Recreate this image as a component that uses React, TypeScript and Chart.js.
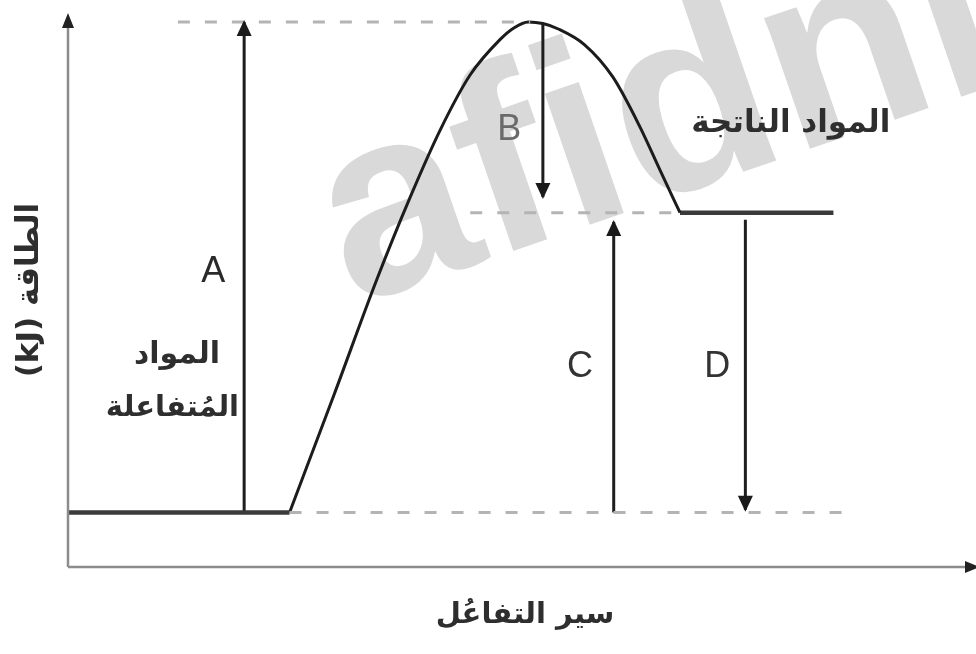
import React, { useEffect, useRef } from "react";
import { Chart, registerables } from "chart.js";

Chart.register(...registerables);

// Energy profile of an endothermic reaction (arbitrary energy units vs. reaction progress 0–100)
const reactantEnergy = 10;
const productEnergy = 65;
const transitionEnergy = 100;

const reactantSpan = [0, 24.4];
const productSpan = [67.4, 84.3];

// Reaction path from reactants up over the activation barrier down to products
const pathProgress = [24.4, 29.3, 34.0, 37.7, 41.0, 44.3, 47.6, 49.1, 50.7, 52.3, 54.0, 56.9, 60.0, 63.0, 65.2, 67.4];
const pathEnergy = [10, 31.6, 52.7, 67.9, 80.2, 90.3, 96.8, 98.9, 100, 99.7, 98.7, 95.8, 89.9, 80.7, 72.8, 65];

// Dashed reference levels: [from, to] along the progress axis
const transitionGuide = [12.1, 50.9];
const productGuide = [44.3, 67.4];
const reactantGuide = [24.4, 86.1];

// Energy arrows: position on progress axis, start energy, end energy (arrowhead at end)
const arrowNames = ["A", "B", "C", "D"];
const arrowProgress = [19.4, 52.3, 60.1, 74.6];
const arrowFrom = [10, 99.7, 10, 63.7];
const arrowTo = [100, 67.9, 63.3, 10.5];

// Text labels: [text, progress, energy, colour]
const letterLabels: [string, number, number, string][] = [
  ["A", 16.0, 54.1, "#2a2a2a"],
  ["B", 48.6, 80.2, "#6a6a6a"],
  ["C", 56.4, 36.7, "#333333"],
  ["D", 71.5, 36.7, "#333333"],
];
const arabicLabels: [string, number, number, number][] = [
  ["المواد", 12.0, 38.9, 30],
  ["المُتفاعلة", 11.5, 29.0, 29],
  ["المواد الناتجة", 79.6, 81.3, 31],
];
const yTitle = "الطاقة (kJ)";
const xTitle = "سير التفاعُل";
const watermark = "afidni";

const seg = (x0: number, x1: number, y: number) => [
  { x: x0, y },
  { x: x1, y },
];

const diagramPlugin = {
  id: "diagramDecor",
  beforeDatasetsDraw(chart: any) {
    const { ctx } = chart;
    const xs = chart.scales.x;
    const ys = chart.scales.y;
    ctx.save();
    // watermark
    const ox = xs.getPixelForValue(31.3);
    const oy = ys.getPixelForValue(47.8);
    ctx.translate(ox, oy);
    ctx.rotate((-19 * Math.PI) / 180);
    ctx.font = 'bold 262px "Liberation Sans", Arial, sans-serif';
    ctx.fillStyle = "#d9d9d9";
    ctx.textBaseline = "alphabetic";
    ctx.fillText(watermark, 0, 0);
    ctx.restore();
  },
  afterDatasetsDraw(chart: any) {
    const { ctx, chartArea } = chart;
    const xs = chart.scales.x;
    const ys = chart.scales.y;
    ctx.save();

    // axes with arrowheads
    const left = chartArea.left;
    const bottom = chartArea.bottom;
    ctx.strokeStyle = "#8c8c8c";
    ctx.fillStyle = "#222";
    ctx.lineWidth = 2.5;
    ctx.beginPath();
    ctx.moveTo(left, bottom);
    ctx.lineTo(left, chartArea.top + 10);
    ctx.moveTo(left, bottom);
    ctx.lineTo(chartArea.right - 6, bottom);
    ctx.stroke();
    const head = (tx: number, ty: number, dx: number, dy: number, len: number, hw: number) => {
      const px = -dy;
      const py = dx;
      ctx.beginPath();
      ctx.moveTo(tx, ty);
      ctx.lineTo(tx - dx * len + px * hw, ty - dy * len + py * hw);
      ctx.lineTo(tx - dx * len - px * hw, ty - dy * len - py * hw);
      ctx.closePath();
      ctx.fill();
    };
    head(left, chartArea.top + 2, 0, -1, 15, 6);
    head(chartArea.right + 4, bottom, 1, 0, 15, 6);

    // arrowheads for energy arrows
    ctx.fillStyle = "#1a1a1a";
    chart.data.datasets.forEach((ds: any, i: number) => {
      if (!ds.arrow) return;
      const meta = chart.getDatasetMeta(i);
      const pts = meta.data;
      const a = pts[pts.length - 2];
      const b = pts[pts.length - 1];
      let dx = b.x - a.x;
      let dy = b.y - a.y;
      const l = Math.hypot(dx, dy) || 1;
      dx /= l;
      dy /= l;
      head(b.x + dx * 2, b.y + dy * 2, dx, dy, 16, 7.5);
    });

    // letter labels
    ctx.textAlign = "center";
    ctx.textBaseline = "middle";
    ctx.font = '36px "Liberation Sans", Arial, sans-serif';
    letterLabels.forEach(([t, x, y, c]) => {
      ctx.fillStyle = c;
      ctx.fillText(t, xs.getPixelForValue(x), ys.getPixelForValue(y));
    });

    // Arabic labels
    ctx.direction = "rtl";
    ctx.fillStyle = "#2e2e2e";
    arabicLabels.forEach(([t, x, y, size]) => {
      ctx.font = `bold ${size}px "DejaVu Sans", sans-serif`;
      ctx.fillText(t, xs.getPixelForValue(x), ys.getPixelForValue(y));
    });

    // axis titles
    ctx.font = 'bold 29px "DejaVu Sans", sans-serif';
    ctx.fillText(xTitle, (left + chartArea.right) / 2 + 3, bottom + 48);
    ctx.save();
    ctx.translate(left - 38, ys.getPixelForValue(50.8));
    ctx.rotate(-Math.PI / 2);
    ctx.font = 'bold 31px "DejaVu Sans", sans-serif';
    ctx.fillText(yTitle, 0, 0);
    ctx.restore();

    ctx.restore();
  },
};

export default function App() {
  const ref = useRef<HTMLCanvasElement>(null);

  useEffect(() => {
    const guide = (data: any[]) => ({
      data,
      borderColor: "#b4b4b4",
      borderWidth: 3,
      borderDash: [12, 15],
      pointRadius: 0,
      fill: false,
      tension: 0,
    });
    const arrows = arrowNames.map((name, i) => ({
      label: name,
      arrow: true,
      data: [
        { x: arrowProgress[i], y: arrowFrom[i] },
        { x: arrowProgress[i], y: arrowTo[i] },
      ],
      borderColor: "#1e1e1e",
      borderWidth: 3,
      pointRadius: 0,
      fill: false,
      tension: 0,
    }));

    const chart = new Chart(ref.current as HTMLCanvasElement, {
      type: "line",
      data: {
        datasets: [
          guide(seg(transitionGuide[0], transitionGuide[1], transitionEnergy)),
          guide(seg(productGuide[0], productGuide[1], productEnergy)),
          guide(seg(reactantGuide[0], reactantGuide[1], reactantEnergy)),
          {
            label: "reactants",
            data: seg(reactantSpan[0], reactantSpan[1], reactantEnergy),
            borderColor: "#3a3a3a",
            borderWidth: 4.5,
            pointRadius: 0,
            fill: false,
          },
          {
            label: "path",
            data: pathProgress.map((x, i) => ({ x, y: pathEnergy[i] })),
            borderColor: "#1c1c1c",
            borderWidth: 3,
            pointRadius: 0,
            fill: false,
            cubicInterpolationMode: "monotone",
          },
          {
            label: "products",
            data: seg(productSpan[0], productSpan[1], productEnergy),
            borderColor: "#3a3a3a",
            borderWidth: 4.5,
            pointRadius: 0,
            fill: false,
          },
          ...arrows,
        ] as any,
      },
      options: {
        animation: false,
        responsive: true,
        maintainAspectRatio: false,
        events: [],
        layout: { padding: { left: 68, right: 0, top: 11, bottom: 87 } },
        scales: {
          x: { type: "linear", min: 0, max: 100, display: false },
          y: { type: "linear", min: 0, max: 102, display: false },
        },
        plugins: {
          legend: { display: false },
          tooltip: { enabled: false },
        },
      },
      plugins: [diagramPlugin],
    });
    return () => chart.destroy();
  }, []);

  return (
    <div
      style={{
        position: "fixed",
        left: 0,
        top: 0,
        width: 976,
        height: 654,
        background: "#ffffff",
      }}
    >
      <canvas ref={ref} />
    </div>
  );
}
